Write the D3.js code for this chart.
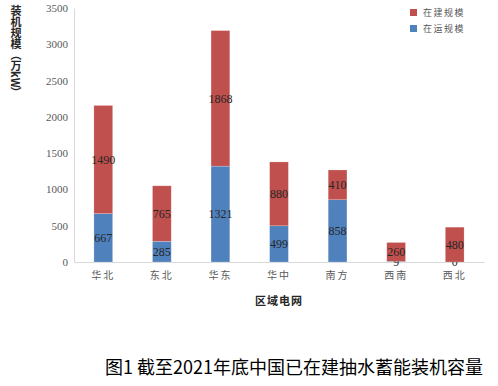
<!DOCTYPE html>
<html>
<head>
<meta charset="utf-8">
<script src="https://cdn.jsdelivr.net/npm/d3@7"></script>
<style>
  body { margin: 0; background: #fff; }
  svg { display: block; }
</style>
</head>
<body>
<svg id="chart" width="498" height="386"></svg>
<script>
// Chart data
const regions = ['华北', '东北', '华东', '华中', '南方', '西南', '西北'];
const operating = [667, 285, 1321, 499, 858, 9, 0];        // 在运规模
const building = [1490, 765, 1868, 880, 410, 260, 480];   // 在建规模
const yTicks = [0, 500, 1000, 1500, 2000, 2500, 3000, 3500];

const seriesNames = ['在运规模', '在建规模'];
const colors = { '在运规模': '#4f81bd', '在建规模': '#c0504d' };

const svg = d3.select('#chart');
const margin = { top: 8, right: 14, bottom: 124, left: 74 };
const width = 498 - margin.left - margin.right;
const height = 386 - margin.top - margin.bottom;

const g = svg.append('g').attr('transform', `translate(${margin.left},${margin.top})`);

const x = d3.scaleBand().domain(regions).range([0, width]).paddingInner(0.68).paddingOuter(0.34);
const y = d3.scaleLinear().domain([0, 3500]).range([height, 0]);

// stacked table
const table = regions.map((r, i) => ({ region: r, '在运规模': operating[i], '在建规模': building[i] }));
const stacked = d3.stack().keys(seriesNames)(table);

// y axis
const yAxis = g.append('g').call(d3.axisLeft(y).tickValues(yTicks).tickFormat(d3.format('d')).tickSize(0).tickPadding(6));
yAxis.select('.domain').attr('stroke', '#d9d9d9');
yAxis.selectAll('text')
    .attr('fill', '#595959')
    .style('font-family', '"Liberation Serif", serif')
    .style('font-size', '11px');

// x axis
const xAxis = g.append('g').attr('transform', `translate(0,${height})`)
    .call(d3.axisBottom(x).tickSize(0).tickPadding(10));
xAxis.select('.domain').attr('stroke', '#d9d9d9');
xAxis.selectAll('text')
    .attr('fill', '#595959')
    .style('font-family', '"Noto Sans CJK SC", sans-serif')
    .style('font-size', '10px')
    .style('letter-spacing', '2px');

// bars
const layers = g.selectAll('.layer').data(stacked).enter().append('g')
    .attr('fill', d => colors[d.key]);

layers.selectAll('rect').data(d => d).enter().append('rect')
    .attr('x', d => x(d.data.region))
    .attr('y', d => y(d[1]))
    .attr('width', x.bandwidth())
    .attr('height', d => y(d[0]) - y(d[1]))
    .attr('stroke', 'rgba(255,255,255,0.35)')
    .attr('stroke-width', 0.6);

// value labels
layers.selectAll('text').data(d => d.map(v => ({ v, key: d.key }))).enter().append('text')
    .attr('x', d => x(d.v.data.region) + x.bandwidth() / 2)
    .attr('y', d => (y(d.v[0]) + y(d.v[1])) / 2)
    .attr('dy', '0.35em')
    .attr('text-anchor', 'middle')
    .attr('fill', '#262626')
    .style('font-family', '"Liberation Serif", serif')
    .style('font-size', '12px')
    .text(d => d.v.data[d.key]);

// legend
const legendItems = ['在建规模', '在运规模'];
const legend = svg.append('g').attr('transform', 'translate(410,9)');
legendItems.forEach((name, i) => {
    const item = legend.append('g').attr('transform', `translate(0,${i * 16})`);
    item.append('rect').attr('width', 7).attr('height', 7).attr('fill', colors[name]);
    item.append('text')
        .attr('x', 13).attr('y', 4).attr('dy', '0.35em')
        .attr('fill', '#595959')
        .style('font-family', '"Noto Sans CJK SC", sans-serif')
        .style('font-size', '9px')
        .style('letter-spacing', '1.5px')
        .text(name);
});

// y axis title (vertical)
svg.append('text')
    .attr('x', 16).attr('y', 5)
    .style('writing-mode', 'vertical-rl')
    .attr('fill', '#262626')
    .style('font-family', '"Noto Sans CJK SC", sans-serif')
    .style('font-size', '11px')
    .style('font-weight', 'bold')
    .text('装机规模（万kW）');

// x axis title
svg.append('text')
    .attr('x', margin.left + width / 2).attr('y', 305)
    .attr('text-anchor', 'middle')
    .attr('fill', '#262626')
    .style('font-family', '"Noto Sans CJK SC", sans-serif')
    .style('font-size', '11px')
    .style('font-weight', 'bold')
    .style('letter-spacing', '1px')
    .text('区域电网');

// caption
svg.append('text')
    .attr('x', 105).attr('y', 374)
    .attr('fill', '#000')
    .style('font-family', '"Noto Sans CJK SC", sans-serif')
    .style('font-size', '18px')
    .text('图1 截至2021年底中国已在建抽水蓄能装机容量');
</script>
</body>
</html>
